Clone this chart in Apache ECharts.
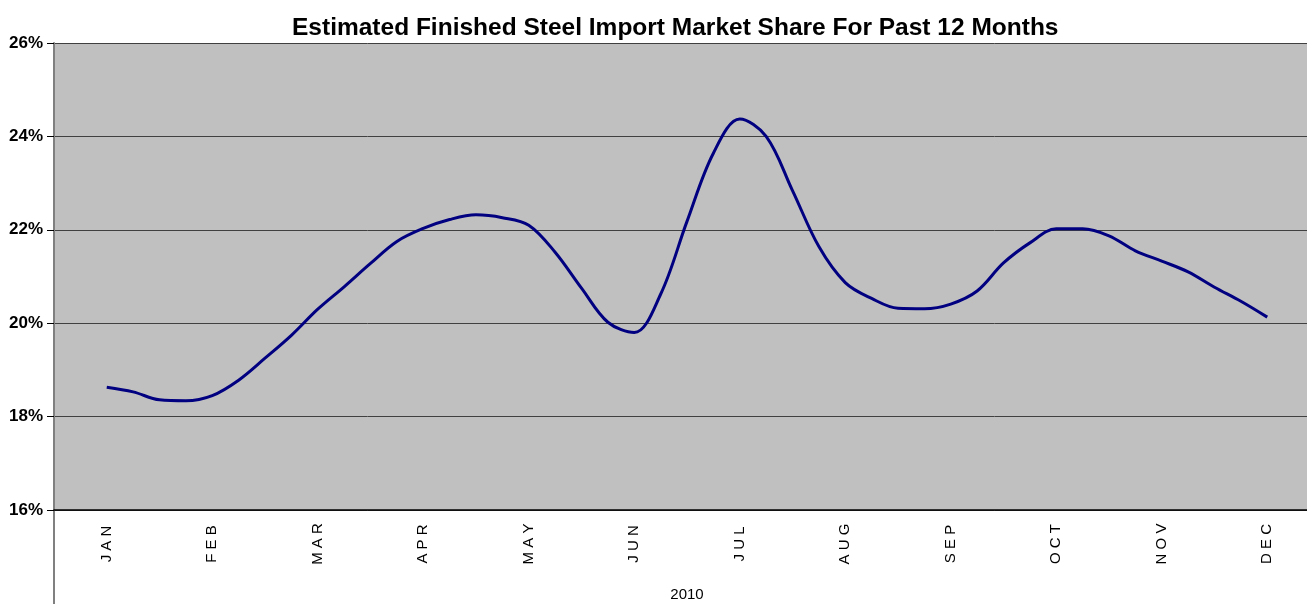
<!DOCTYPE html>
<html>
<head>
<meta charset="utf-8">
<style>
  html, body { margin: 0; padding: 0; background: #fff; }
  #chart { width: 1307px; height: 604px; }
</style>
<script src="https://cdn.jsdelivr.net/npm/echarts@6/dist/echarts.min.js"></script>
</head>
<body>
<div id="chart"></div>
<script>
  // month labels (category axis)
  var months = ['JAN', 'FEB', 'MAR', 'APR', 'MAY', 'JUN', 'JUL', 'AUG', 'SEP', 'OCT', 'NOV', 'DEC']
  // position of each reading, in months from JAN (weekly readings)
  var weekPos = [
    0, 0.25, 0.5, 0.75, 1, 1.25, 1.5, 1.75, 2, 2.25, 2.5, 2.75,
    3, 3.25, 3.5, 3.75, 4, 4.25, 4.5, 4.75, 5, 5.25, 5.5, 5.75,
    6, 6.25, 6.5, 6.75, 7, 7.25, 7.5, 7.75, 8, 8.25, 8.5, 8.75,
    9, 9.25, 9.5, 9.75, 10, 10.25, 10.5, 10.75, 11
  ]
  // import market share, %
  var share = [
    18.63, 18.53, 18.36, 18.34, 18.45, 18.78, 19.25, 19.74, 20.30, 20.78, 21.28, 21.75,
    22.03, 22.22, 22.32, 22.26, 22.10, 21.52, 20.75, 20.02, 19.80, 20.62, 22.18, 23.64,
    24.37, 24.00, 22.84, 21.64, 20.87, 20.53, 20.32, 20.31, 20.41, 20.69, 21.29, 21.72,
    22.02, 22.02, 21.87, 21.55, 21.33, 21.10, 20.77, 20.47, 20.13
  ]
  var yearLabel = '2010'
  var titleText = 'Estimated Finished Steel Import Market Share For Past 12 Months'

  var chart = echarts.init(document.getElementById('chart'))

  var points = weekPos.map(function (p, i) { return [p, share[i]] })

  chart.setOption({
    animation: false,
    backgroundColor: '#ffffff',
    title: {
      text: titleText,
      left: 287,
      top: 11,
      textStyle: {
        fontFamily: 'Liberation Sans, Arial',
        fontWeight: 'bold',
        fontSize: 24.5,
        color: '#000'
      }
    },
    grid: {
      left: 54,
      top: 43,
      bottom: 94,
      width: 1266,
      show: true,
      backgroundColor: '#c0c0c0',
      borderWidth: 0,
      containLabel: false,
      outerBoundsMode: 'none'
    },
    xAxis: [
      {
        type: 'category',
        data: months,
        boundaryGap: true,
        name: yearLabel,
        nameLocation: 'middle',
        nameGap: 77,
        nameTextStyle: { fontFamily: 'Liberation Sans, Arial', fontSize: 15, color: '#000' },
        axisLine: { show: true, lineStyle: { color: '#000', width: 1.5 } },
        axisTick: { show: false },
        axisLabel: {
          rotate: 90,
          margin: 34,
          align: 'center',
          fontFamily: 'Liberation Sans, Arial',
          fontSize: 15,
          color: '#000',
          formatter: function (v) { return v.split('').join(' ') }
        },
        splitLine: { show: false }
      },
      {
        type: 'value',
        min: -0.5,
        max: 11.5,
        show: false
      }
    ],
    yAxis: {
      type: 'value',
      min: 16,
      max: 26,
      interval: 2,
      axisLine: { show: true, onZero: false, lineStyle: { color: '#808080', width: 2 } },
      axisTick: { show: true, length: 7, lineStyle: { color: '#000' } },
      axisLabel: {
        margin: 11,
        fontFamily: 'Liberation Sans, Arial',
        fontWeight: 'bold',
        fontSize: 17,
        color: '#000',
        formatter: '{value}%'
      },
      splitLine: { show: true, lineStyle: { color: '#404040', width: 1 } }
    },
    graphic: [
      {
        type: 'line',
        shape: { x1: 54, y1: 510, x2: 54, y2: 604 },
        style: { stroke: '#808080', lineWidth: 2 }
      }
    ],
    series: [
      {
        type: 'line',
        xAxisIndex: 1,
        data: points,
        smooth: 0.35,
        symbol: 'none',
        lineStyle: { color: '#000080', width: 3 }
      }
    ]
  })
</script>
</body>
</html>
